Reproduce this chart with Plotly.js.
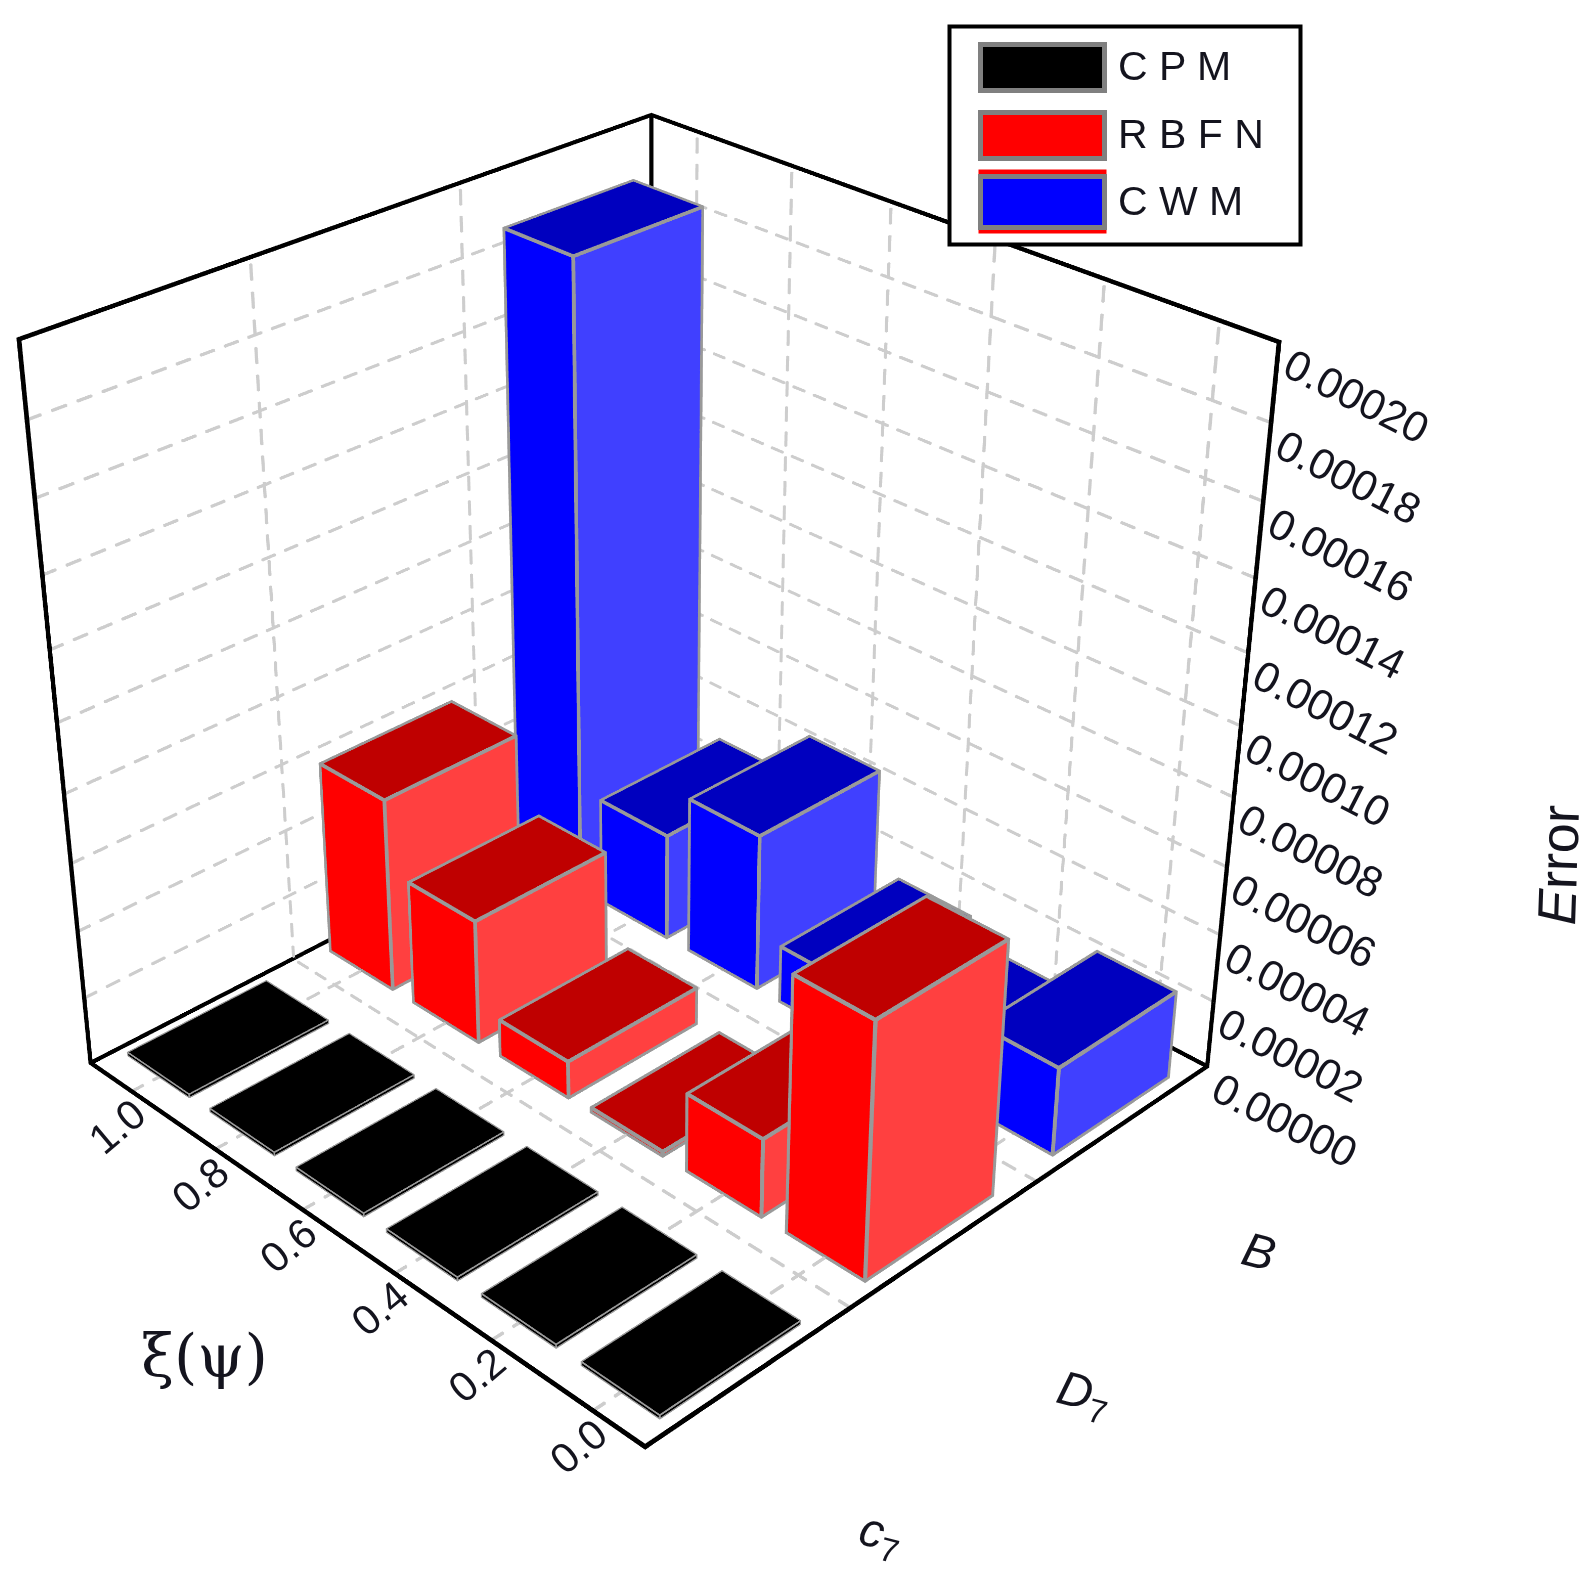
<!DOCTYPE html>
<html><head><meta charset="utf-8">
<script src="https://cdn.plot.ly/plotly-3.0.1.min.js"></script>
<style>html,body{margin:0;padding:0;background:#fff;width:1596px;height:1572px;overflow:hidden}
#stage{position:absolute;left:0;top:0;width:1596px;height:1572px;overflow:hidden}
#plot{position:absolute}</style></head>
<body><div id="stage"><div id="plot"></div></div>
<script>
// ---- data ----
var categories = ['c7','D7','B'];
var catLabels = ['<i>c</i><sub>7</sub>','<i>D</i><sub>7</sub>','<i>B</i>'];
var seriesNames = ['C P M','R B F N','C W M'];
var xi = [0.0,0.2,0.4,0.6,0.8,1.0];
var xiLabels = ['0.0','0.2','0.4','0.6','0.8','1.0'];
var cpm  = [0.000001,0.000001,0.000001,0.000001,0.000001,0.000001];
var rbfn = [0.000074,0.000023,0.0000012,0.000011,0.000037,0.000058];
var cwm  = [0.000026,0.000010,0.000017,0.000047,0.000032,0.000186];
var zTicks = [0,0.00002,0.00004,0.00006,0.00008,0.0001,0.00012,0.00014,0.00016,0.00018,0.0002];
var zLabels = ['0.00000','0.00002','0.00004','0.00006','0.00008','0.00010','0.00012','0.00014','0.00016','0.00018','0.00020'];
var faceColors = [['#000000','#000000','#000000'],['#ff0000','#ff4040','#bf0000'],['#0000ff','#4040ff','#0000bf']];

// ---- frame: the camera needs a narrow field of view, so the plot is larger than the page ----
var W = 2913, cx = 648, cy = 724;
var left = cx - W/2, top_ = cy - W/2;
var plot = document.getElementById('plot');
plot.style.left = left+'px'; plot.style.top = top_+'px'; plot.style.width = W+'px'; plot.style.height = W+'px';
function PX(p){return (p-left)/W;} function PY(p){return 1-(p-top_)/W;}

var xr=[0.5,3.5], yr=[-0.1,1.1], zr=[0,0.0002];
var pad=0.02;
function padded(r){var d=(r[1]-r[0])*pad/2;return [r[0]-d,r[1]+d];}
var scale=[1/(xr[1]-xr[0]),1/(yr[1]-yr[0]),1/(zr[1]-zr[0])];
var bw=0.34, bd=0.075, catOffsets=[-0.03,-0.02,0];
var traces=[];

// thin axis-aligned boxes stand in for lines, because WebGL lines stay 1px wide
function Mesh(){this.X=[];this.Y=[];this.Z=[];this.I=[];this.J=[];this.K=[];}
Mesh.prototype.box=function(a,b,hw){
  var lo=[0,1,2].map(function(d){return Math.min(a[d],b[d])-hw/scale[d];});
  var hi=[0,1,2].map(function(d){return Math.max(a[d],b[d])+hw/scale[d];});
  var n=this.X.length,self=this;
  [[0,0,0],[1,0,0],[1,1,0],[0,1,0],[0,0,1],[1,0,1],[1,1,1],[0,1,1]].forEach(function(c){
    self.X.push(c[0]?hi[0]:lo[0]);self.Y.push(c[1]?hi[1]:lo[1]);self.Z.push(c[2]?hi[2]:lo[2]);});
  [[0,1,2],[0,2,3],[4,5,6],[4,6,7],[0,1,5],[0,5,4],[1,2,6],[1,6,5],[2,3,7],[2,7,6],[3,0,4],[3,4,7]].forEach(function(t){
    self.I.push(n+t[0]);self.J.push(n+t[1]);self.K.push(n+t[2]);});
};
Mesh.prototype.dash=function(a,b,hw,on,off){
  var d=[0,1,2].map(function(k){return (b[k]-a[k]);});
  var len=Math.sqrt(d.reduce(function(s,v,k){return s+Math.pow(v*scale[k],2);},0));
  var t=0;
  while(t<len){var e=Math.min(t+on,len);
    var p=function(u){return [a[0]+d[0]*u/len,a[1]+d[1]*u/len,a[2]+d[2]*u/len];};
    this.box(p(t),p(e),hw);t=e+off;}
};
Mesh.prototype.trace=function(color){return {type:'mesh3d',x:this.X,y:this.Y,z:this.Z,i:this.I,j:this.J,k:this.K,color:color,flatshading:true,
  lighting:{ambient:1,diffuse:0,specular:0,roughness:1,fresnel:0},hoverinfo:'skip',showscale:false};};

// grid
var grid=new Mesh(), gw=0.0014, on=0.018, off=0.018, below=-gw/scale[2];
zTicks.slice(1,-1).forEach(function(z){
  grid.dash([xr[0],yr[1],z],[xr[1],yr[1],z],gw,on,off);
  grid.dash([xr[1],yr[0],z],[xr[1],yr[1],z],gw,on,off);
});
xi.forEach(function(y){grid.dash([xr[1],y,0],[xr[1],y,zr[1]],gw,on,off);grid.dash([xr[0],y,below],[xr[1],y,below],gw,on,off);});
[1.5,2.5].forEach(function(x){grid.dash([x,yr[1],0],[x,yr[1],zr[1]],gw,on,off);grid.dash([x,yr[0],below],[x,yr[1],below],gw,on,off);});
traces.push(grid.trace('#cdcdcd'));

// box
var frame=new Mesh(), fw=0.0019;
var A=[xr[0],yr[0]],B=[xr[1],yr[0]],C=[xr[1],yr[1]],D=[xr[0],yr[1]];
[[A,B],[B,C],[C,D],[D,A]].forEach(function(e){frame.box([e[0][0],e[0][1],0],[e[1][0],e[1][1],0],fw);});
[[B,C],[C,D]].forEach(function(e){frame.box([e[0][0],e[0][1],zr[1]],[e[1][0],e[1][1],zr[1]],fw);});
[B,C,D].forEach(function(e){frame.box([e[0],e[1],0],[e[0],e[1],zr[1]],fw);});
traces.push(frame.trace('#000000'));

// bars
var edges=new Mesh(), edgeWidths=[0.0007,0.0017,0.0017];
[cpm,rbfn,cwm].forEach(function(vals,si){
  var X=[],Y=[],Z=[],I=[],J=[],K=[],FC=[];
  var c=si+1+catOffsets[si], col=faceColors[si], ew=edgeWidths[si];
  vals.forEach(function(v,n){
    var y=xi[n], b=X.length;
    var x0=c-bw,x1=c+bw,y0=y-bd,y1=y+bd;
    var P=[[x0,y0,0],[x1,y0,0],[x1,y1,0],[x0,y1,0],[x0,y0,v],[x1,y0,v],[x1,y1,v],[x0,y1,v]];
    P.forEach(function(p){X.push(p[0]);Y.push(p[1]);Z.push(p[2]);});
    function q(a,bb,cc,d,f){I.push(b+a,b+a);J.push(b+bb,b+cc);K.push(b+cc,b+d);FC.push(f,f);}
    q(0,3,7,4,col[0]);q(1,2,6,5,col[0]);q(0,1,5,4,col[1]);q(3,2,6,7,col[1]);q(4,5,6,7,col[2]);q(0,1,2,3,col[2]);
    [[4,5],[5,6],[6,7],[7,4],[0,4],[1,5],[3,7],[0,1],[0,3],[1,2]].forEach(function(s){edges.box(P[s[0]],P[s[1]],ew);});
  });
  traces.push({type:'mesh3d',x:X,y:Y,z:Z,i:I,j:J,k:K,facecolor:FC,flatshading:true,
    lighting:{ambient:1,diffuse:0,specular:0,roughness:1,fresnel:0},hoverinfo:'skip',showscale:false,name:seriesNames[si]});
});
traces.push(edges.trace('#999999'));

var F='"Liberation Sans",Arial,sans-serif', tc='#14141e';
var sceneAnn=[];
zTicks.forEach(function(z,i){sceneAnn.push({x:xr[1],y:yr[0],z:z,text:zLabels[i],showarrow:false,textangle:27,xanchor:'center',yanchor:'middle',xshift:77,yshift:-54,font:{family:F,size:43,color:tc}});});
xi.forEach(function(y,i){sceneAnn.push({x:xr[0],y:y,z:0,text:xiLabels[i],showarrow:false,textangle:-40,xanchor:'center',yanchor:'middle',xshift:-14,yshift:-36,font:{family:F,size:42,color:tc}});});
var catDx=[130,137,135], catDy=[-161,-153,-129];
categories.forEach(function(c,i){sceneAnn.push({x:i+1,y:yr[0],z:0,text:catLabels[i],showarrow:false,textangle:15,xanchor:'center',yanchor:'middle',xshift:catDx[i],yshift:catDy[i],font:{family:F,size:48,color:tc}});});

var axis={showgrid:false,zeroline:false,showticklabels:false,showline:false,showbackground:false,showspikes:false,ticks:'',title:{text:''}};
function ax(r){return Object.assign({},axis,{range:padded(r),autorange:false});}

var shapes=[], ann=[];
function rect(x0,y0,x1,y1,fill,line,w){shapes.push({type:'rect',xref:'paper',yref:'paper',x0:PX(x0),x1:PX(x1),y0:PY(y0),y1:PY(y1),fillcolor:fill,line:{color:line,width:w},layer:'above'});}
rect(949,26,1300,244,'#fff','#000',4);
rect(978,169,1106,233,'#ff0000','#ff0000',0);
[[44,90,'#000'],[112,158,'#f00'],[176,227,'#00f']].forEach(function(r){rect(980,r[0],1104,r[1],r[2],'#808080',5);});
seriesNames.forEach(function(n,i){ann.push({xref:'paper',yref:'paper',x:PX(1115),y:PY([65,133,200][i]),xanchor:'left',yanchor:'middle',text:n,showarrow:false,font:{family:F,size:41,color:tc}});});
ann.push({xref:'paper',yref:'paper',x:PX(204),y:PY(1355),xanchor:'center',yanchor:'middle',text:'ξ(ψ)',showarrow:false,font:{family:'"DejaVu Serif",serif',size:60,color:tc}});
ann.push({xref:'paper',yref:'paper',x:PX(1557),y:PY(865),xanchor:'center',yanchor:'middle',text:'<i>E</i>rror',showarrow:false,textangle:-88,font:{family:F,size:54,color:tc}});

var th=30.5*Math.PI/180, phi=225.3*Math.PI/180, Dist=4.2, R=Dist*Math.cos(th);
var asp=1+pad;
var layout={width:W,height:W,margin:{l:0,r:0,t:0,b:0},paper_bgcolor:'#fff',showlegend:false,shapes:shapes,annotations:ann,
  scene:{domain:{x:[0,1],y:[0,1]},bgcolor:'#fff',aspectmode:'manual',aspectratio:{x:asp,y:asp,z:asp},
    xaxis:ax(xr),yaxis:ax(yr),zaxis:ax(zr),
    camera:{projection:{type:'perspective'},center:{x:0,y:0,z:0},up:{x:0,y:0,z:1},eye:{x:R*Math.cos(phi),y:R*Math.sin(phi),z:Dist*Math.sin(th)}},
    annotations:sceneAnn}};
Plotly.newPlot(plot,traces,layout,{displayModeBar:false,responsive:false});
</script></body></html>
